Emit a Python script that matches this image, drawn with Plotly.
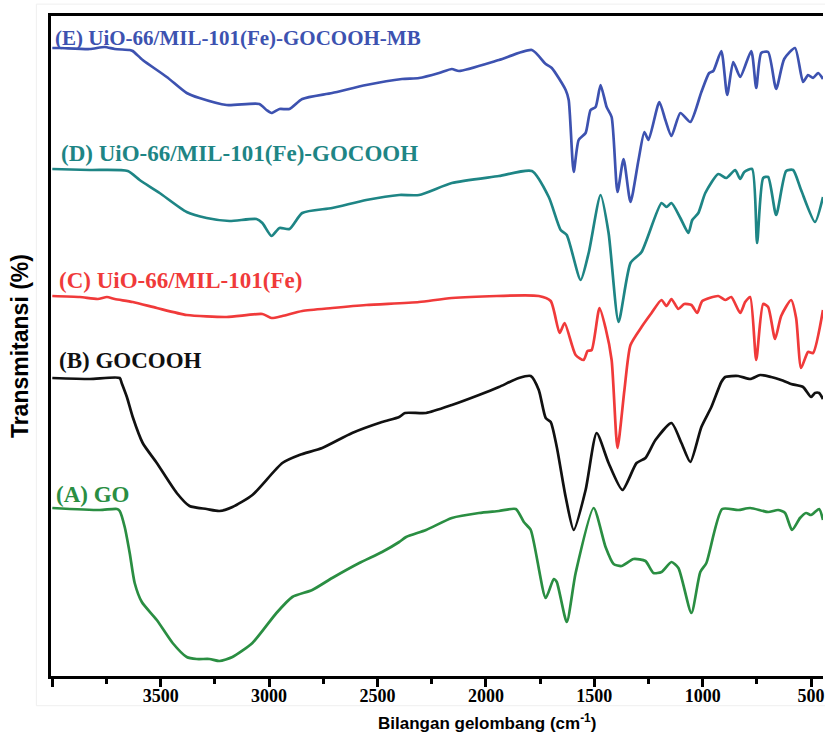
import plotly.graph_objects as go

# ---- data (wavenumber cm^-1, transmittance in arbitrary offset units) ----
E_wn = [4000, 3965, 3827, 3758, 3712, 3643, 3629, 3583, 3472, 3380, 3321, 3196, 3045, 3012, 2989, 2952, 2906, 2847,
        2709, 2552, 2387, 2308, 2216, 2157, 2124, 1940, 1788, 1724, 1696, 1632, 1618, 1595, 1572, 1540, 1517, 1494,
        1471, 1443, 1420, 1393, 1365, 1333, 1296, 1269, 1250, 1200, 1172, 1144, 1103, 1057, 1006, 970, 951, 914,
        887, 859, 827, 776, 753, 730, 698, 661, 624, 574, 537, 514, 491, 468, 445]
E_t = [630, 630, 629, 631, 629, 628, 627, 618, 601, 585, 580, 573, 574, 568, 565, 569, 569, 579,
       585, 593, 599, 600, 605, 609, 607, 618, 628, 614, 610, 588, 578, 506, 538, 545, 568, 571,
       593, 571, 561, 486, 519, 476, 518, 546, 538, 576, 558, 542, 565, 556, 586, 605, 607, 627,
       583, 616, 601, 627, 590, 625, 626, 589, 619, 630, 596, 603, 600, 605, 599]

D_wn = [4000, 3827, 3652, 3597, 3505, 3380, 3288, 3183, 3058, 3031, 2989, 2952, 2906, 2847, 2709, 2552, 2400, 2308,
        2157, 1940, 1788, 1710, 1655, 1627, 1563, 1526, 1471, 1434, 1388, 1333, 1282, 1190, 1167, 1144, 1103, 1066,
        1048, 1020, 988, 928, 891, 850, 827, 808, 772, 749, 721, 698, 661, 615, 583, 546, 482, 445]
D_t = [509, 508, 507, 498, 485, 466, 460, 457, 459, 455, 442, 450, 449, 465, 470, 478, 483, 483,
       495, 502, 507, 481, 448, 443, 398, 425, 483, 445, 356, 415, 426, 475, 471, 475, 460, 445,
       458, 465, 485, 504, 500, 508, 499, 506, 509, 435, 500, 501, 463, 507, 508, 488, 456, 481]

C_wn = [4000, 3873, 3790, 3748, 3712, 3629, 3518, 3380, 3196, 3031, 2989, 2939, 2847, 2709, 2552, 2308, 2157, 1756,
        1701, 1660, 1637, 1586, 1549, 1531, 1512, 1476, 1448, 1420, 1393, 1361, 1333, 1282, 1236, 1190, 1167, 1144,
        1112, 1085, 1052, 1025, 1002, 928, 896, 868, 827, 804, 781, 753, 721, 698, 666, 638, 592, 569, 546, 514,
        491, 445]
C_t = [382, 381, 379, 381, 379, 376, 370, 363, 361, 364, 360, 362, 367, 370, 373, 376, 380, 382,
       377, 345, 355, 323, 318, 327, 328, 370, 350, 318, 230, 288, 333, 351, 365, 378, 372, 379,
       369, 374, 373, 365, 377, 382, 378, 381, 365, 376, 381, 318, 374, 371, 339, 362, 378, 360, 310, 326,
       325, 368]

B_wn = [4000, 3827, 3689, 3680, 3656, 3629, 3583, 3518, 3426, 3367, 3288, 3229, 3169, 3077, 2939, 2860, 2755, 2617,
        2479, 2400, 2373, 2276, 2157, 2032, 1940, 1848, 1793, 1756, 1724, 1701, 1673, 1632, 1595, 1540, 1489, 1434,
        1370, 1305, 1264, 1218, 1144, 1098, 1057, 1006, 960, 914, 896, 836, 781, 735, 684, 638, 592, 537, 500,
        482, 463, 445]
B_t = [300, 299, 300, 295, 281, 261, 235, 215, 185, 172, 169, 167, 171, 183, 215, 223, 230, 245,
       256, 261, 265, 265, 273, 283, 291, 300, 302, 288, 260, 256, 231, 181, 148, 188, 245, 215,
       188, 215, 220, 238, 255, 235, 216, 251, 271, 296, 301, 302, 299, 303, 301, 298, 294, 291, 281,
       285, 285, 279]

A_wn = [4000, 3781, 3702, 3689, 3666, 3643, 3620, 3587, 3518, 3445, 3380, 3334, 3275, 3229, 3169, 3077, 2966, 2893,
        2801, 2709, 2584, 2479, 2400, 2368, 2276, 2157, 2032, 1940, 1862, 1825, 1793, 1724, 1687, 1673, 1627, 1586,
        1503, 1448, 1411, 1374, 1319, 1264, 1227, 1190, 1144, 1112, 1052, 1011, 983, 910, 836, 781, 698, 652,
        620, 588, 551, 523, 500, 463, 445]
A_t = [170, 168, 169, 167, 151, 125, 95, 76, 58, 35, 21, 19, 19, 17, 21, 35, 65, 81,
       88, 100, 115, 126, 136, 141, 148, 160, 165, 167, 169, 156, 148, 80, 99, 96, 56, 105,
       170, 131, 114, 112, 119, 117, 105, 106, 116, 110, 65, 106, 115, 169, 168, 170, 166, 168,
       165, 148, 160, 165, 163, 169, 158]

# name, x, y, colour, label x (cm^-1), label y, label size
series = [
    ("(E) UiO-66/MIL-101(Fe)-GOCOOH-MB", E_wn, E_t, "#3D52B0", 3995, 640, 21),
    ("(D) UiO-66/MIL-101(Fe)-GOCOOH", D_wn, D_t, "#1E8585", 3969, 525, 23),
    ("(C) UiO-66/MIL-101(Fe)", C_wn, C_t, "#F03A3A", 3980, 398, 23),
    ("(B) GOCOOH", B_wn, B_t, "#111111", 3978, 318, 23),
    ("(A) GO", A_wn, A_t, "#2A8E42", 3990, 184, 23),
]

major_vals = [4000, 3500, 3000, 2500, 2000, 1500, 1000, 500]
major_text = ["", "3500", "3000", "2500", "2000", "1500", "1000", "500"]
minor_vals = [3750, 3250, 2750, 2250, 1750, 1250, 750]

SERIF = "Liberation Serif, Times New Roman, serif"
SANS = "Liberation Sans, Arial, sans-serif"

fig = go.Figure()
annotations = []
for name, wn, t, col, lx, ly, fs in series:
    fig.add_trace(go.Scatter(x=wn, y=t, mode="lines", name=name,
                             line=dict(color=col, width=2.7, shape="spline", smoothing=0.6),
                             showlegend=False, hoverinfo="skip"))
    annotations.append(dict(x=lx, y=ly, xref="x", yref="y", text="<b>" + name + "</b>",
                            showarrow=False, xanchor="left", yanchor="middle",
                            font=dict(family=SERIF, size=fs, color=col)))

annotations.append(dict(x=1995, y=-0.0697, xref="x", yref="paper",
                        text="<b>Bilangan gelombang (cm<sup>-1</sup>)</b>",
                        showarrow=False, xanchor="center", yanchor="middle",
                        font=dict(family=SANS, size=17, color="black")))
annotations.append(dict(x=-0.040, y=0.50, xref="paper", yref="paper",
                        text="<b>Transmitansi (%)</b>", textangle=-90,
                        showarrow=False, xanchor="center", yanchor="middle",
                        font=dict(family=SANS, size=23, color="black")))

fig.update_layout(
    width=825, height=733,
    margin=dict(l=51, r=0, t=16, b=57),
    paper_bgcolor="white", plot_bgcolor="white",
    annotations=annotations,
    shapes=[dict(type="rect", xref="paper", yref="paper", x0=-0.019, x1=1.2, y0=-0.045, y1=1.018,
                 line=dict(color="#efefef", width=1), layer="below")],
)
fig.update_xaxes(
    range=[4006, 445], showgrid=False, zeroline=False,
    showline=True, linewidth=3, linecolor="black", mirror=True,
    ticks="outside", ticklen=8, tickwidth=2.5, tickcolor="black",
    tickvals=major_vals, ticktext=major_text,
    ticklabeloverflow="allow", ticklabelstandoff=-7,
    minor=dict(tickvals=minor_vals, ticks="outside", ticklen=5, tickwidth=2.5, tickcolor="black", showgrid=False),
    tickfont=dict(family=SERIF, size=18, color="black", weight="bold"),
)
fig.update_yaxes(
    range=[2, 662], showgrid=False, zeroline=False,
    showline=True, linewidth=3, linecolor="black", mirror=False,
    showticklabels=False, ticks="",
)

fig.write_html("out.html")
